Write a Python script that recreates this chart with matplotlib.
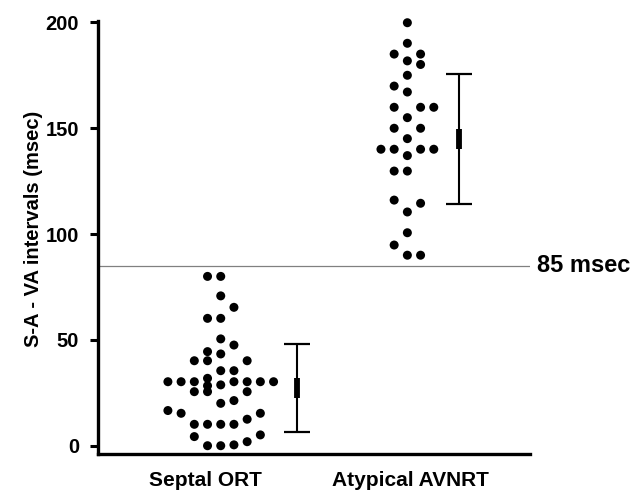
"""S-A / VA interval dot plot: Septal ORT vs Atypical AVNRT, 85 msec cut-off."""

import matplotlib

matplotlib.use("Agg")

import matplotlib.pyplot as plt

plt.rcParams["font.family"] = ["Liberation Sans", "DejaVu Sans"]
plt.rcParams["font.weight"] = "bold"

CATEGORIES = ["Septal ORT", "Atypical AVNRT"]
Y_TICKS = [0, 50, 100, 150, 200]
CUTOFF = 85

# dot values (msec) and swarm column slot for each dot
SEPTAL_VALUES = [
    80, 80, 70.8, 65.4, 60.2, 60.2, 50.5, 47.6, 44.5, 43.4,
    40.2, 40.2, 40.2, 35.5, 35.5, 31.9,
    30.3, 30.3, 30.3, 30.3, 30.3, 30.3, 30.3,
    28.8, 28.4, 25.6, 25.6, 25.6, 20.1, 21.4, 16.7, 15.4,
    10.2, 10.2, 10.2, 10.2, 12.6, 15.4, 4.4,
    0.1, 0.1, 0.5, 2.0, 5.2,
]
SEPTAL_COLS = [
    -1, 0, 0, 1, -1, 0, 0, 1, -1, 0,
    -2, -1, 2, 0, 1, -1,
    -4, -3, -2, 1, 2, 3, 4,
    0, -1, -2, -1, 2, 0, 1, -4, -3,
    -2, -1, 0, 1, 2, 3, -2,
    -1, 0, 1, 2, 3,
]
ATYPICAL_VALUES = [
    199.7, 190, 184.9, 184.9, 181.7, 180, 174.9, 169.8, 167,
    159.8, 159.8, 159.8, 154.9, 149.9, 149.9, 145,
    140, 140, 140, 140, 137, 129.7, 129.7,
    116, 114.5, 110.4, 100.6, 94.8, 90, 90,
]
ATYPICAL_COLS = [
    0, 0, -1, 1, 0, 1, 0, -1, 0,
    -1, 1, 2, 0, -1, 1, 0,
    -2, -1, 1, 2, 0, -1, 0,
    -1, 1, 0, 0, -1, 0, 1,
]

# summary bars: mean, SD (whiskers), SEM (thick segment)
MEANS = [27.3, 144.8]
SDS = [20.8, 30.8]
SEMS = [4.7, 4.85]


def main():
    fig = plt.figure(figsize=(6.44, 4.98), dpi=100, facecolor="white")
    ax = fig.add_axes([0.152, 0.0884, 0.671, 0.8698])

    col_step = 0.0644
    dot_centers = [1.077, 1.987]
    bar_x = [1.45, 2.24]

    groups = [(SEPTAL_VALUES, SEPTAL_COLS), (ATYPICAL_VALUES, ATYPICAL_COLS)]
    for center, (vals, cols) in zip(dot_centers, groups):
        xs = [center + c * col_step for c in cols]
        ax.scatter(xs, vals, s=42, color="black", edgecolors="none", zorder=3,
                   clip_on=False)

    for x, m, sd, se in zip(bar_x, MEANS, SDS, SEMS):
        ax.errorbar(x, m, yerr=sd, fmt="none", ecolor="black", elinewidth=1.5,
                    capsize=9.5, capthick=1.6, zorder=3)
        ax.vlines(x, m - se, m + se, color="black", lw=4.2, zorder=4)

    ax.axhline(CUTOFF, color="#808080", lw=0.9, zorder=1)
    ax.text(1.016, CUTOFF, f"{CUTOFF} msec", transform=ax.get_yaxis_transform(),
            ha="left", va="center", fontsize=17, fontweight="bold")

    ax.set_xlim(0.478, 2.585)
    ax.set_ylim(-3.8, 200.6)
    ax.set_xticks([1, 2])
    ax.set_xticklabels(CATEGORIES, fontsize=15, fontweight="bold")
    ax.set_yticks(Y_TICKS)
    ax.set_yticklabels([str(t) for t in Y_TICKS], fontsize=14.5, fontweight="bold")
    ax.tick_params(axis="x", length=0, pad=12)
    ax.tick_params(axis="y", length=5.5, width=2.2, pad=8)

    for side in ["top", "right"]:
        ax.spines[side].set_visible(False)
    for side in ["left", "bottom"]:
        ax.spines[side].set_linewidth(2.4)

    ax.set_ylabel("S-A - VA intervals (msec)", fontsize=14.5, fontweight="bold")
    ax.yaxis.set_label_coords(-0.128, 0.52)

    fig.savefig("out.png", dpi=100, facecolor="white")
    plt.close(fig)


if __name__ == "__main__":
    main()
